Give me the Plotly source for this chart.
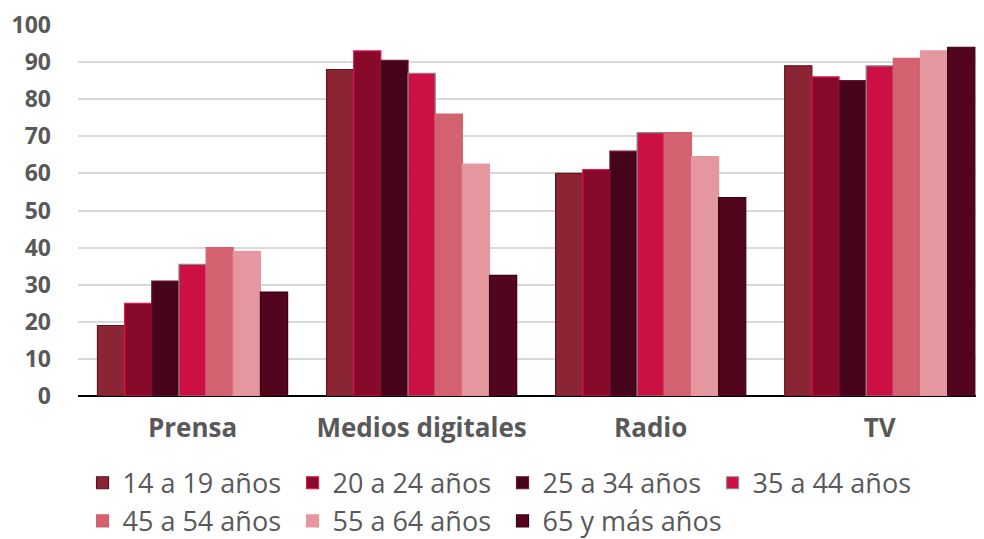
import plotly.graph_objects as go

categories = ["Prensa", "Medios digitales", "Radio", "TV"]

age_groups = [
    "14 a 19 años",
    "20 a 24 años",
    "25 a 34 años",
    "35 a 44 años",
    "45 a 54 años",
    "55 a 64 años",
    "65 y más años",
]

# one list per age group, values for Prensa, Medios digitales, Radio, TV
v_14_19 = [19, 88, 60, 89]
v_20_24 = [25, 93, 61, 86]
v_25_34 = [31, 90.5, 66, 85]
v_35_44 = [35.5, 87, 71, 89]
v_45_54 = [40, 76, 71, 91]
v_55_64 = [39, 62.5, 64.5, 93]
v_65_plus = [28, 32.5, 53.5, 94]

values = [v_14_19, v_20_24, v_25_34, v_35_44, v_45_54, v_55_64, v_65_plus]

fills = ["#8B2433", "#870A2B", "#45041A", "#CC1043", "#D46170", "#E597A0", "#52051C"]
outlines = ["#5E1422", "#E3154A", "#6E1030", "#8A8A8A", "#D46170", "#E597A0", "#3A0212"]

TEXT = "#595959"

fig = go.Figure()
for i, (name, vals) in enumerate(zip(age_groups, values)):
    fig.add_trace(
        go.Bar(
            x=categories,
            y=vals,
            name=name,
            marker=dict(color=fills[i], line=dict(color=outlines[i], width=1.2)),
            legend="legend" if i < 4 else "legend2",
        )
    )

# empty, invisible entry so the second legend row is wide enough
# for "65 y más años" not to be clipped
fig.add_trace(
    go.Scatter(
        x=[None],
        y=[None],
        mode="markers",
        name=" ",
        marker=dict(color="rgba(0,0,0,0)"),
        legend="legend2",
        hoverinfo="skip",
    )
)

legend_common = dict(
    orientation="h",
    font=dict(family="Open Sans", size=27, color=TEXT),
    entrywidth=165,
    entrywidthmode="pixels",
    xanchor="left",
    yanchor="middle",
    bgcolor="rgba(0,0,0,0)",
    itemwidth=30,
)

# page body has an 8px margin, so the figure is 8px smaller than the window
fig.update_layout(
    width=976,
    height=531,
    margin=dict(l=70, r=0, t=17, b=143, autoexpand=False),
    paper_bgcolor="white",
    plot_bgcolor="white",
    barmode="group",
    bargap=0.17,
    bargroupgap=0,
    legend=dict(x=0.005, y=-0.235, **legend_common),
    legend2=dict(x=0.005, y=-0.338, **legend_common),
    xaxis=dict(
        range=[-0.5, 3.455],
        automargin=False,
        tickfont=dict(family="Open Sans", size=26, color=TEXT, weight="bold"),
        ticklabelstandoff=14,
        showgrid=False,
    ),
    yaxis=dict(
        range=[0, 100],
        dtick=10,
        automargin=False,
        tickfont=dict(family="Open Sans", size=23, color=TEXT, weight="bold"),
        ticklabelstandoff=26,
        showgrid=True,
        gridcolor="#D9D9D9",
        gridwidth=2,
        zeroline=True,
        zerolinecolor="#000000",
        zerolinewidth=1.5,
    ),
)

fig.write_html("out.html")
